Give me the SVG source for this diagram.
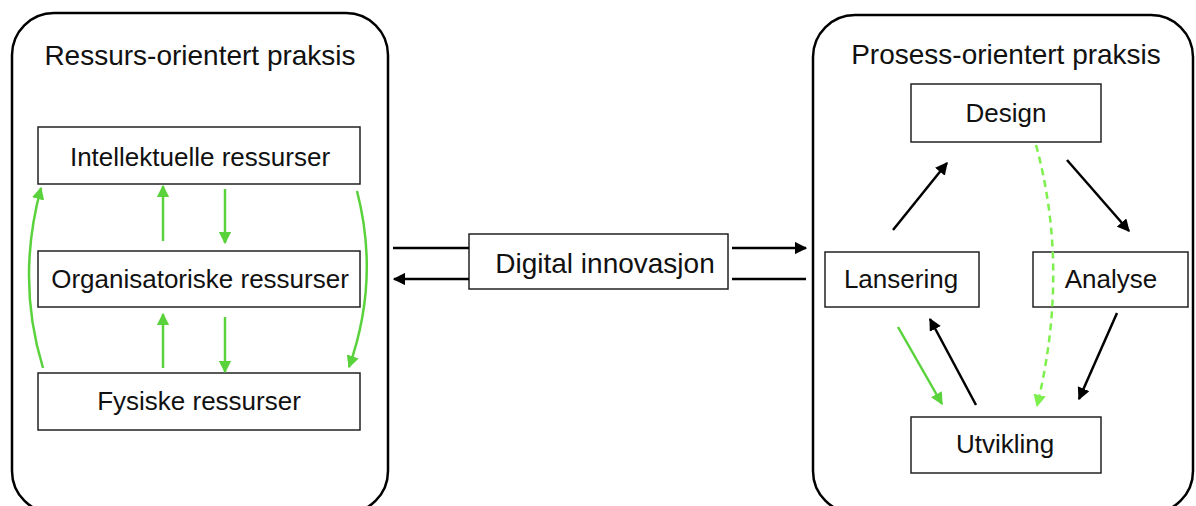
<svg xmlns="http://www.w3.org/2000/svg" width="1196" height="506" viewBox="0 0 1196 506">
<style>
.frame{fill:none;stroke:#000;stroke-width:2.5}
.box{fill:#fff;stroke:#222;stroke-width:1.5}
.t{font-family:"Liberation Sans",Arial,sans-serif;fill:#111;text-anchor:middle}
.title{font-size:28px}
.lbl{font-size:26px}
.big{font-size:28px}
.bk{fill:none;stroke:#000;stroke-width:2.5}
.gr{fill:none;stroke:#5ad23c;stroke-width:2.5}
.gd{fill:none;stroke:#7ef04e;stroke-width:2.5;stroke-dasharray:7,5}
</style>
<defs>
<marker id="ab" viewBox="0 0 10 10" refX="9" refY="5" markerWidth="5" markerHeight="5" orient="auto" markerUnits="strokeWidth"><path d="M0,0 L10,5 L0,10 Z" fill="#000"/></marker>
<marker id="ag" viewBox="0 0 10 10" refX="9" refY="5" markerWidth="5" markerHeight="5" orient="auto" markerUnits="strokeWidth"><path d="M0,0 L10,5 L0,10 Z" fill="#5ad23c"/></marker>
<marker id="agd" viewBox="0 0 10 10" refX="9" refY="5" markerWidth="5" markerHeight="5" orient="auto" markerUnits="strokeWidth"><path d="M0,0 L10,5 L0,10 Z" fill="#7ef04e"/></marker>
</defs>
<g id="ressurs-praksis">
<rect class="frame" x="12" y="13" width="376" height="500" rx="42"/>
<text class="t title" x="200" y="65">Ressurs-orientert praksis</text>
</g>
<g id="prosess-praksis">
<rect class="frame" x="813" y="15" width="380" height="498" rx="42"/>
<text class="t title" x="1006" y="64">Prosess-orientert praksis</text>
</g>
<g id="intellektuelle">
<rect class="box" x="38" y="127" width="322" height="57"/>
<text class="t lbl" x="200" y="166">Intellektuelle ressurser</text>
</g>
<g id="organisatoriske">
<rect class="box" x="38" y="251" width="322" height="56"/>
<text class="t lbl" x="200" y="288">Organisatoriske ressurser</text>
</g>
<g id="fysiske">
<rect class="box" x="38" y="373" width="322" height="57"/>
<text class="t lbl" x="199" y="410">Fysiske ressurser</text>
</g>
<g id="digital">
<rect class="box" x="469" y="234" width="259" height="55"/>
<text class="t big" x="605" y="273">Digital innovasjon</text>
</g>
<g id="design">
<rect class="box" x="911" y="84" width="190" height="58"/>
<text class="t lbl" x="1006" y="122">Design</text>
</g>
<g id="lansering">
<rect class="box" x="825" y="252" width="154" height="55"/>
<text class="t lbl" x="901" y="288">Lansering</text>
</g>
<g id="analyse">
<rect class="box" x="1033" y="252" width="155" height="55"/>
<text class="t lbl" x="1111" y="288">Analyse</text>
</g>
<g id="utvikling">
<rect class="box" x="911" y="417" width="190" height="56"/>
<text class="t lbl" x="1005" y="453">Utvikling</text>
</g>
<g id="connectors">
<line class="gr" x1="163" y1="241" x2="163" y2="186" marker-end="url(#ag)"/>
<line class="gr" x1="225" y1="189" x2="225" y2="243" marker-end="url(#ag)"/>
<line class="gr" x1="163" y1="368" x2="163" y2="314" marker-end="url(#ag)"/>
<line class="gr" x1="225" y1="317" x2="225" y2="372" marker-end="url(#ag)"/>
<path class="gr" d="M43,368 Q16,280 41,188" marker-end="url(#ag)"/>
<path class="gr" d="M357,191 Q380,280 349,367" marker-end="url(#ag)"/>
<line class="bk" x1="393" y1="248" x2="469" y2="248"/>
<line class="bk" x1="732" y1="248" x2="806" y2="248" marker-end="url(#ab)"/>
<line class="bk" x1="806" y1="279" x2="732" y2="279"/>
<line class="bk" x1="469" y1="279" x2="394" y2="279" marker-end="url(#ab)"/>
<line class="bk" x1="893" y1="230" x2="947" y2="163" marker-end="url(#ab)"/>
<line class="bk" x1="1067" y1="160" x2="1129" y2="231" marker-end="url(#ab)"/>
<line class="bk" x1="1117" y1="313" x2="1079" y2="399" marker-end="url(#ab)"/>
<line class="bk" x1="976" y1="405" x2="930" y2="319" marker-end="url(#ab)"/>
<line class="gr" x1="898" y1="327" x2="942" y2="404" marker-end="url(#ag)"/>
<path class="gd" d="M1036,145 Q1070,270 1037,406" marker-end="url(#agd)"/>
</g>
</svg>
